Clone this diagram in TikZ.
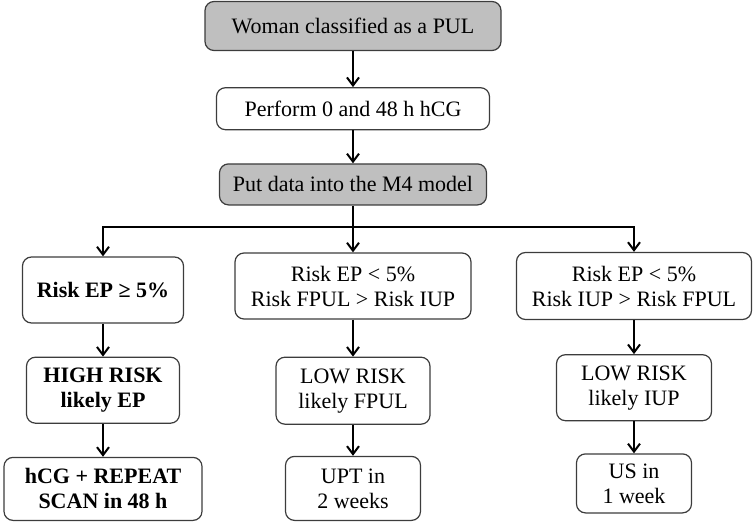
\documentclass[tikz,border=0pt]{standalone}
\usepackage{fontspec}
\setmainfont{Liberation Serif}
\usepackage{xcolor}
\usepackage{tikz}
\usetikzlibrary{arrows.meta, positioning}
\definecolor{boxgray}{RGB}{191,191,191}
\definecolor{boxborder}{RGB}{60,60,60}

\begin{document}
\begin{tikzpicture}[
    x=1pt, y=1pt,
    font=\fontsize{22}{25}\selectfont,
    whitebox/.style={rounded corners=9pt, draw=boxborder, fill=white, line width=1.2pt, align=center, inner sep=2pt},
    graybox/.style={whitebox, fill=boxgray},
    arrow/.style={-{Straight Barb[length=8pt,width=12pt]}, line width=2pt, draw=black},
    branch/.style={line width=2pt, draw=black}
]
\useasboundingbox (0,0) rectangle (756,-525);

\node[graybox, minimum width=296pt, minimum height=49pt] (pul) at (353,-26) {Woman classified as a PUL};
\node[whitebox, minimum width=273pt, minimum height=42pt, below=36pt of pul] (hcg) {Perform 0 and 48 h hCG};
\node[graybox, minimum width=267pt, minimum height=41pt, below=33pt of hcg] (model) {Put data into the M4 model};

\node[whitebox, minimum width=161pt, minimum height=66pt] (riskep) at (103,-290) {\textbf{Risk EP ≥ 5\%}};
\node[whitebox, minimum width=153pt, minimum height=66pt, below=33pt of riskep] (highrisk) {\textbf{HIGH RISK}\\\textbf{likely EP}};
\node[whitebox, minimum width=198pt, minimum height=63pt, below=33pt of highrisk] (repeat) {\textbf{hCG + REPEAT}\\\textbf{SCAN in 48 h}};

\node[whitebox, minimum width=236pt, minimum height=66pt] (riskfpul) at (353,-286) {Risk EP < 5\%\\Risk FPUL > Risk IUP};
\node[whitebox, minimum width=154pt, minimum height=67pt, below=37pt of riskfpul] (lowfpul) {LOW RISK\\likely FPUL};
\node[whitebox, minimum width=135pt, minimum height=64pt, below=31pt of lowfpul] (upt) {UPT in\\2 weeks};

\node[whitebox, minimum width=235pt, minimum height=67pt] (riskiup) at (634,-286) {Risk EP < 5\%\\Risk IUP > Risk FPUL};
\node[whitebox, minimum width=155pt, minimum height=66pt, below=34pt of riskiup] (lowiup) {LOW RISK\\likely IUP};
\node[whitebox, minimum width=115pt, minimum height=59pt, below=32pt of lowiup] (us) {US in\\1 week};

\draw[arrow] (pul) -- (hcg);
\draw[arrow] (hcg) -- (model);

% split into the three risk groups
\draw[branch] (model.south) -- ++(0,-21) coordinate (split);
\draw[arrow] (split) -| (riskep.north);
\draw[arrow] (split) -| (riskiup.north);
\draw[arrow] (split) -- (riskfpul.north);

\draw[arrow] (riskep) -- (highrisk);
\draw[arrow] (highrisk) -- (repeat);
\draw[arrow] (riskfpul) -- (lowfpul);
\draw[arrow] (lowfpul) -- (upt);
\draw[arrow] (riskiup) -- (lowiup);
\draw[arrow] (lowiup) -- (us);

\end{tikzpicture}
\end{document}
